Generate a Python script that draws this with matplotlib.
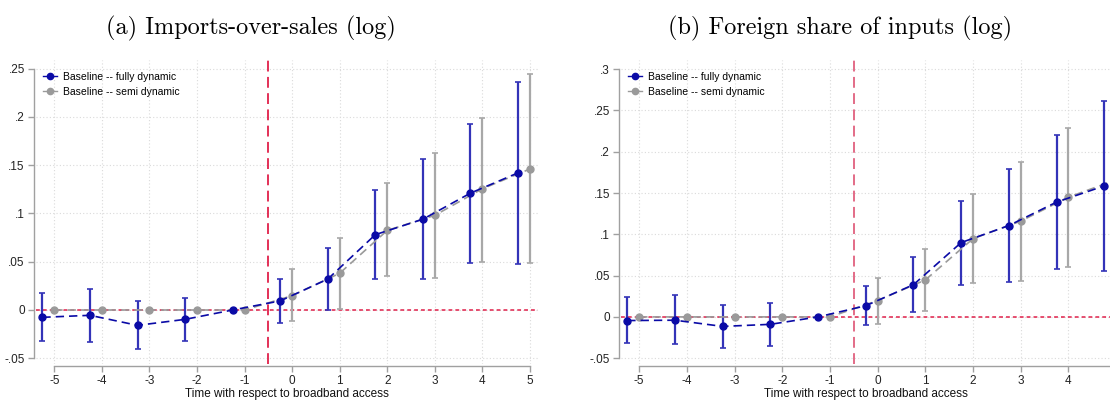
import matplotlib
matplotlib.use("Agg")
import matplotlib.pyplot as plt
from matplotlib.ticker import FuncFormatter

# event time
t_full = [-5.25, -4.25, -3.25, -2.25, -1.25, -0.25, 0.75, 1.75, 2.75, 3.75, 4.75]
t_semi = [-5, -4, -3, -2, -1, 0, 1, 2, 3, 4, 5]

# (a) imports-over-sales
a_full = [-0.0076, -0.0055, -0.0159, -0.0097, 0.0, 0.0094, 0.032, 0.078, 0.094, 0.121, 0.142]
a_full_hi = [0.0179, 0.0214, 0.009, 0.0128, None, 0.0324, 0.0645, 0.124, 0.156, 0.193, 0.236]
a_full_lo = [-0.0324, -0.0328, -0.0403, -0.032, None, -0.0138, 0.0, 0.032, 0.032, 0.049, 0.048]
a_semi = [0.0, 0.0, 0.0, 0.0, 0.0, 0.0148, 0.038, 0.0824, 0.098, 0.1255, 0.146]
a_semi_hi = [None, None, None, None, None, 0.042, 0.0741, 0.131, 0.163, 0.199, 0.244]
a_semi_lo = [None, None, None, None, None, -0.0114, 0.0007, 0.035, 0.033, 0.050, 0.049]

# (b) foreign share of inputs
b_full = [-0.0044, -0.004, -0.0115, -0.009, 0.0, 0.0135, 0.039, 0.090, 0.1106, 0.139, 0.1586]
b_full_hi = [0.0238, 0.026, 0.0147, 0.0163, None, 0.037, 0.073, 0.140, 0.1796, 0.220, 0.2615]
b_full_lo = [-0.0317, -0.0333, -0.038, -0.035, None, -0.0099, 0.0056, 0.0387, 0.0424, 0.0585, 0.0553]
b_semi = [0.0, 0.0, 0.0, 0.0, 0.0, 0.0198, 0.0448, 0.0948, 0.116, 0.145, 0.166]
b_semi_hi = [None, None, None, None, None, 0.047, 0.082, 0.149, 0.188, 0.229, 0.27]
b_semi_lo = [None, None, None, None, None, -0.0085, 0.0073, 0.041, 0.044, 0.061, 0.062]

titles = ["(a) Imports-over-sales (log)", "(b) Foreign share of inputs (log)"]
xlabel = "Time with respect to broadband access"

BLUE = "#0a0aa6"
BLUE_CI = "#3333b8"
GREY = "#9a9a9a"
GREY_CI = "#a8a8a8"
RED = "#e0204a"

plt.rcParams["font.family"] = ["Liberation Sans", "DejaVu Sans"]
plt.rcParams["axes.unicode_minus"] = False


def fmt(v, pos):
    if abs(v) < 1e-9:
        return "0"
    s = ("%.2f" % v).rstrip("0")
    return s.replace("0.", ".")


def draw_ci(ax, t, lo, hi, color):
    for x, l, h in zip(t, lo, hi):
        if l is None:
            continue
        ax.errorbar([x], [(l + h) / 2], yerr=[[(h - l) / 2], [(h - l) / 2]],
                    fmt="none", ecolor=color, elinewidth=1.6, capsize=2.5,
                    capthick=1.2, zorder=3)


def panel(ax, full, full_lo, full_hi, semi, semi_lo, semi_hi, xlim, ylim,
          xticks, yticks, vcolor):
    ax.set_xlim(*xlim)
    ax.set_ylim(*ylim)
    for x in xticks:
        ax.axvline(x, color="#dadada", lw=0.8, ls=(0, (1, 2)), zorder=0)
    for y in yticks:
        ax.axhline(y, color="#dadada", lw=0.8, ls=(0, (1, 2)), zorder=0)
    ax.axhline(0, color=RED, lw=1.1, ls=(0, (2.5, 2)), zorder=1)
    ax.axvline(-0.5, color=vcolor, lw=1.3, ls=(0, (6, 3)), zorder=1)

    draw_ci(ax, t_semi, semi_lo, semi_hi, GREY_CI)
    draw_ci(ax, t_full, full_lo, full_hi, BLUE_CI)
    ax.plot(t_semi, semi, color=GREY, ls=(0, (5, 3)), lw=1.2, zorder=4)
    ax.plot(t_full, full, color=BLUE, ls=(0, (5, 3)), lw=1.2, zorder=5)
    ax.plot(t_semi, semi, "o", color=GREY, ms=5, zorder=4)
    ax.plot(t_full, full, "o", color=BLUE, ms=5, zorder=5)

    # legend proxies
    ax.plot([], [], "-o", color=BLUE, ms=4.5, lw=1.0, label="Baseline -- fully dynamic")
    ax.plot([], [], "-o", color=GREY, ms=4.5, lw=1.0, label="Baseline -- semi dynamic")
    ax.legend(loc="upper left", frameon=False, fontsize=7.5, handlelength=1.3,
              handletextpad=0.6, labelspacing=0.45, borderaxespad=0.3,
              bbox_to_anchor=(0.0, 0.985))

    ax.set_xticks(xticks)
    ax.set_yticks(yticks)
    ax.xaxis.set_major_formatter(FuncFormatter(lambda v, p: "%d" % v))
    ax.yaxis.set_major_formatter(FuncFormatter(fmt))
    for s in ["top", "right"]:
        ax.spines[s].set_visible(False)
    for s in ["left", "bottom"]:
        ax.spines[s].set_position(("outward", 1.5))
        ax.spines[s].set_color("#a0a0a0")
        ax.spines[s].set_linewidth(1.0)
    ax.spines["left"].set_bounds(yticks[0], yticks[-1])
    ax.spines["bottom"].set_bounds(xticks[0], xlim[1] if xticks[-1] < 5 else xticks[-1])
    ax.tick_params(axis="both", colors="#a0a0a0", labelcolor="#222222",
                   labelsize=8.5, length=4, width=1.0, pad=2.5)
    ax.set_xlabel(xlabel, fontsize=8.5, color="#111111", labelpad=1)


fig = plt.figure(figsize=(11.1, 4.01), dpi=100)
ax1 = fig.add_axes([0.0324, 0.0923, 0.4523, 0.758])
ax2 = fig.add_axes([0.5595, 0.0923, 0.4405, 0.758])

panel(ax1, a_full, a_full_lo, a_full_hi, a_semi, a_semi_lo, a_semi_hi,
      (-5.385, 5.17), (-0.0559, 0.2588), list(range(-5, 6)),
      [-0.05, 0, 0.05, 0.1, 0.15, 0.2, 0.25], RED)
panel(ax2, b_full, b_full_lo, b_full_hi, b_semi, b_semi_lo, b_semi_hi,
      (-5.38, 4.87), (-0.057, 0.311), list(range(-5, 5)),
      [-0.05, 0, 0.05, 0.1, 0.15, 0.2, 0.25, 0.3], "#e0607e")

fig.text(0.226, 0.93, titles[0], ha="center", va="center", fontsize=17.5,
         family="cmr10")
fig.text(0.757, 0.93, titles[1], ha="center", va="center", fontsize=17.5,
         family="cmr10")

fig.savefig("out.png", dpi=100)
